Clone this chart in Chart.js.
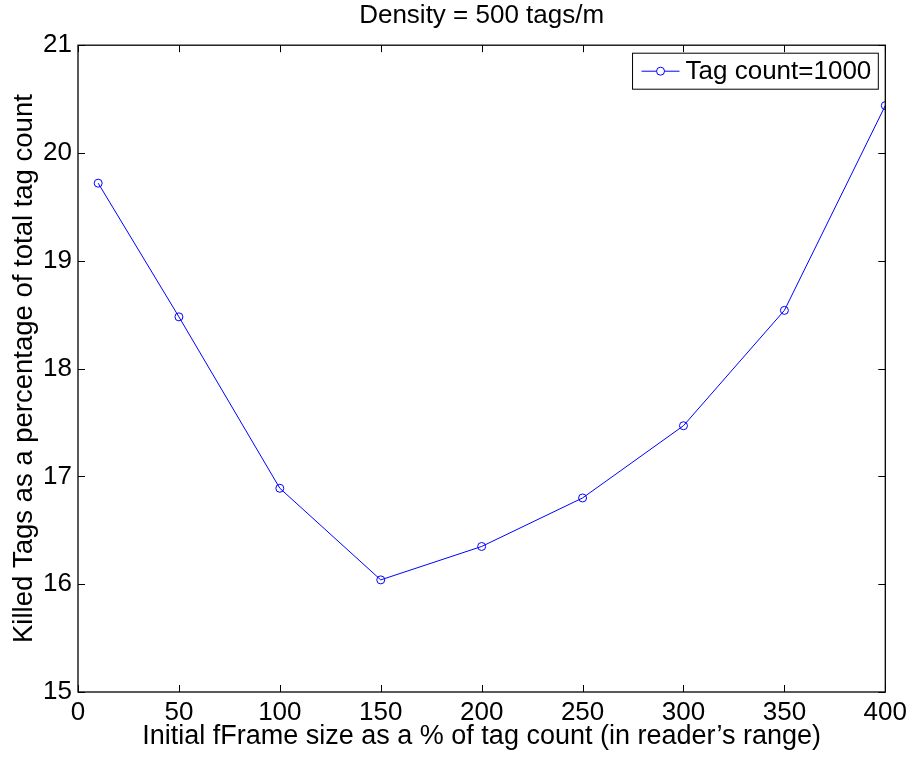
<!DOCTYPE html>
<html lang="en">
<head>
  <meta charset="UTF-8">
  <title>Killed tags vs initial frame size</title>
  <script src="https://cdn.jsdelivr.net/npm/chart.js"></script>
  <style>
    html, body { margin: 0; padding: 0; background: #fff; }
    #wrap { width: 912px; height: 757px; }
  </style>
</head>
<body>
<div id="wrap"><canvas id="killChart" width="912" height="757"></canvas></div>

<script>
  // frame size as % of tag count, and killed tags (% of total)
  const frameSize = [10, 50, 100, 150, 200, 250, 300, 350, 400];
  const killedPct = [19.72, 18.48, 16.89, 16.04, 16.35, 16.80, 17.47, 18.54, 20.44];
  const seriesLabel = 'Tag count=1000';

  const FONT = "'Liberation Sans', Arial, Helvetica, sans-serif";
  const FS = 26;
  const BLUE = '#0000ff';

  // box round the plot, with inward tick marks on all four sides
  const framePlugin = {
    id: 'frame',
    afterDatasetsDraw(chart) {
      const { ctx, chartArea: a, scales } = chart;
      const tl = 7;
      ctx.save();
      ctx.strokeStyle = '#000';
      ctx.lineWidth = 1.3;
      ctx.strokeRect(a.left, a.top, a.right - a.left, a.bottom - a.top);
      ctx.lineWidth = 1;
      ctx.beginPath();
      scales.x.ticks.forEach(t => {
        const px = Math.round(scales.x.getPixelForValue(t.value)) + 0.5;
        ctx.moveTo(px, a.bottom); ctx.lineTo(px, a.bottom - tl);
        ctx.moveTo(px, a.top); ctx.lineTo(px, a.top + tl);
      });
      scales.y.ticks.forEach(t => {
        const py = Math.round(scales.y.getPixelForValue(t.value)) + 0.5;
        ctx.moveTo(a.left, py); ctx.lineTo(a.left + tl, py);
        ctx.moveTo(a.right, py); ctx.lineTo(a.right - tl, py);
      });
      ctx.stroke();

      // legend in the top right corner
      const ds = chart.data.datasets[0];
      ctx.font = FS + 'px ' + FONT;
      const tw = ctx.measureText(ds.label).width;
      const bw = tw + 60, bh = 36;
      const bx = a.right - 7 - bw, by = a.top + 8;
      ctx.fillStyle = '#fff';
      ctx.fillRect(bx, by, bw, bh);
      ctx.strokeStyle = '#000';
      ctx.strokeRect(bx, by, bw, bh);
      const cy = by + bh / 2;
      ctx.strokeStyle = BLUE;
      ctx.beginPath();
      ctx.moveTo(bx + 9, cy); ctx.lineTo(bx + 47, cy);
      ctx.stroke();
      ctx.beginPath();
      ctx.arc(bx + 28, cy, 4, 0, Math.PI * 2);
      ctx.fillStyle = '#fff';
      ctx.fill();
      ctx.stroke();
      ctx.fillStyle = '#000';
      ctx.textBaseline = 'middle';
      ctx.fillText(ds.label, bx + 53, cy + 1);
      ctx.restore();
    }
  };

  new Chart(document.getElementById('killChart'), {
    type: 'line',
    data: {
      datasets: [{
        label: seriesLabel,
        data: frameSize.map((x, i) => ({ x: x, y: killedPct[i] })),
        borderColor: BLUE,
        borderWidth: 1,
        pointRadius: 4,
        pointBorderWidth: 1,
        pointBorderColor: BLUE,
        pointBackgroundColor: 'rgba(0,0,0,0)',
        tension: 0,
        fill: false
      }]
    },
    options: {
      responsive: false,
      animation: false,
      layout: { padding: { left: 0, right: 25, top: 0, bottom: 0 } },
      plugins: {
        legend: { display: false },
        tooltip: { enabled: false },
        title: {
          display: true,
          fullSize: false,
          text: 'Density = 500 tags/m',
          color: '#000',
          font: { family: FONT, size: FS, weight: 'normal', lineHeight: 1.2 },
          padding: { top: 0, bottom: 14 }
        }
      },
      scales: {
        x: {
          type: 'linear',
          min: 0, max: 400,
          grid: { display: false, drawTicks: false },
          border: { display: false },
          ticks: { stepSize: 50, color: '#000', padding: 5, maxRotation: 0,
                   font: { family: FONT, size: FS } },
          title: {
            display: true,
            text: 'Initial fFrame size as a % of tag count (in reader\u2019s range)',
            color: '#000',
            font: { family: FONT, size: 27 },
            padding: { top: 0, bottom: 4 }
          },
          afterFit(scale) { scale.height = 65; }
        },
        y: {
          min: 15, max: 21,
          grid: { display: false, drawTicks: false },
          border: { display: false },
          ticks: { stepSize: 1, color: '#000', padding: 6,
                   font: { family: FONT, size: FS } },
          title: {
            display: true,
            text: 'Killed Tags as a percentage of total tag count',
            color: '#000',
            font: { family: FONT, size: 27.5 },
            padding: { top: 8, bottom: 0 }
          },
          afterFit(scale) { scale.width = 78; }
        }
      }
    },
    plugins: [framePlugin]
  });
</script>
</body>
</html>
